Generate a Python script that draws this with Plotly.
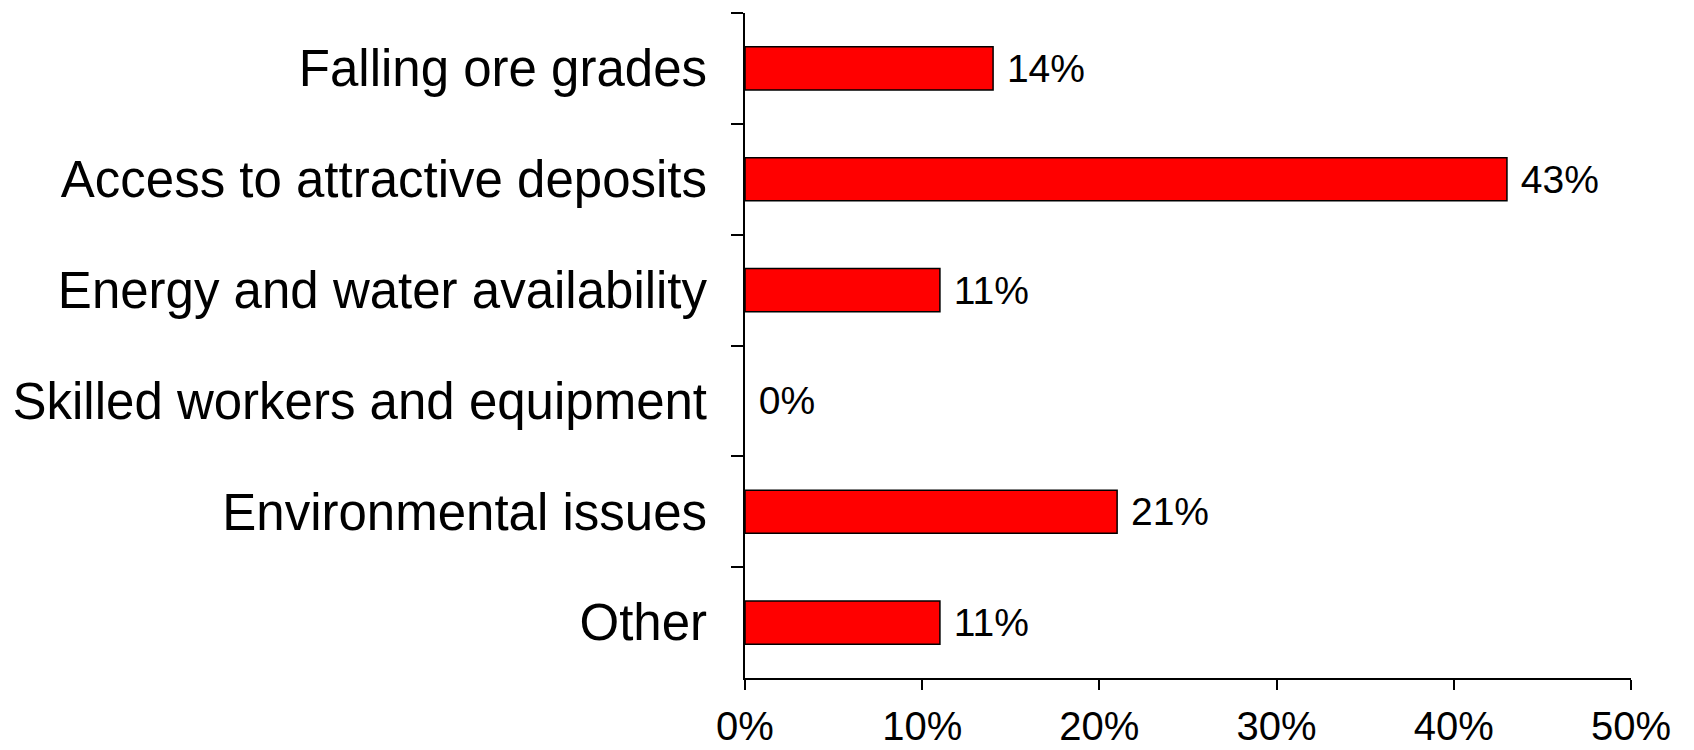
import plotly.graph_objects as go

# Veriler (referans görselden okundu)
categories = [
    "Falling ore grades",
    "Access to attractive deposits",
    "Energy and water availability",
    "Skilled workers and equipment",
    "Environmental issues",
    "Other",
]
shares = [14, 43, 11, 0, 21, 11]
x_ticks = [0, 10, 20, 30, 40, 50]
x_tick_labels = ["0%", "10%", "20%", "30%", "40%", "50%"]

font_family = "Liberation Sans, Arial, sans-serif"

# sıfır değerli çubuğun kenar çizgisi görünmesin
border_widths = [1.5 if v > 0 else 0 for v in shares]

fig = go.Figure()
fig.add_trace(go.Bar(
    x=shares,
    y=categories,
    orientation="h",
    marker=dict(color="#FF0000", line=dict(color="#000000", width=border_widths)),
    text=[f"{v}%" for v in shares],
    texttemplate=" %{text}",
    textposition="outside",
    textfont=dict(size=39, color="#000000", family=font_family),
    cliponaxis=False,
    width=0.39,
))

# sayfa gövdesinin 8px kenar boşluğu hesaba katıldı
fig.update_layout(
    width=1686,
    height=742,
    margin=dict(l=737, r=63, t=5, b=72),
    plot_bgcolor="white",
    paper_bgcolor="white",
    showlegend=False,
    font=dict(family=font_family, color="#000000"),
)

fig.update_xaxes(
    range=[0, 50],
    tickmode="array",
    tickvals=x_ticks,
    ticktext=x_tick_labels,
    ticks="outside",
    ticklen=10,
    tickwidth=1.5,
    tickcolor="black",
    showline=True,
    linecolor="black",
    linewidth=1.5,
    showgrid=False,
    zeroline=False,
    tickfont=dict(size=40, family=font_family),
    ticklabelstandoff=2,
    automargin=False,
)

fig.update_yaxes(
    categoryorder="array",
    categoryarray=categories,
    autorange="reversed",
    tickson="boundaries",
    ticks="outside",
    ticklen=12,
    tickwidth=1.5,
    tickcolor="black",
    showline=True,
    linecolor="black",
    linewidth=1.5,
    showgrid=False,
    zeroline=False,
    tickfont=dict(size=51, family=font_family),
    ticklabelstandoff=26,
    automargin=False,
)

fig.write_html("out.html")
